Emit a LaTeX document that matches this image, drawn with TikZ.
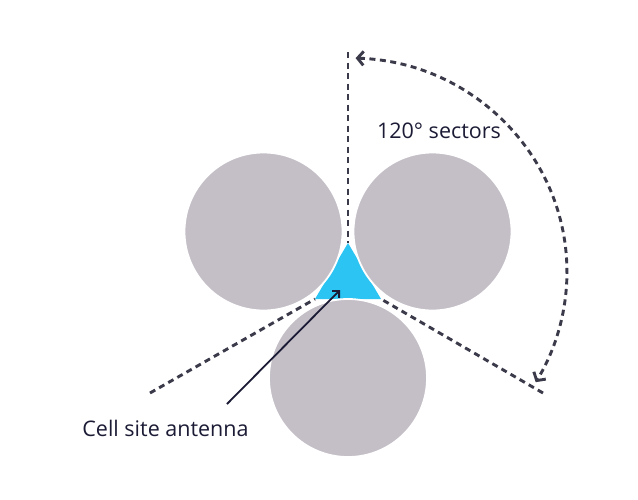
\documentclass[tikz,border=0pt]{standalone}
\usepackage{fontspec}
\setmainfont{Open Sans}
\usetikzlibrary{arrows.meta}
\definecolor{cellgray}{RGB}{196,190,198}
\definecolor{antcyan}{RGB}{43,196,243}
\definecolor{dashgray}{RGB}{58,58,74}
\definecolor{navy}{RGB}{27,27,53}
\tikzset{
  cell/.style={circle,fill=cellgray,draw=white,line width=1.8pt,minimum size=158pt,inner sep=0pt},
  sectorline/.style={draw=dashgray,line width=2.9pt,dash pattern=on 6pt off 4.5pt},
  lbl/.style={font=\fontsize{21.5}{25}\selectfont,text=navy,inner sep=0pt,anchor=base},
  chev/.tip={Straight Barb[length=6pt,width=14pt]}
}
\begin{document}
\begin{tikzpicture}[x=1pt,y=1pt]
\useasboundingbox (0,0) rectangle (638,-499);
% antenna vertices and sector line ends
\coordinate (apex) at (348,-243);
\coordinate (bl) at (315,-299);
\coordinate (br) at (381,-299);
\coordinate (topend) at (348,-52);
\coordinate (leftend) at (150,-393);
\coordinate (rightend) at (543,-393);
% sector lines
\draw[sectorline] (topend) -- (apex);
\draw[sectorline] (leftend) -- (bl);
\draw[sectorline] (rightend) -- (br);
% antenna
\fill[antcyan] (apex) -- (br) -- (bl) -- cycle;
% cells
\node[cell] (cl) at (263.5,-231.5) {};
\node[cell] (cr) at (432.5,-231.5) {};
\node[cell] (cb) at (348,-378) {};
% arc
\coordinate (arcS) at (355.6,-58.1);
\draw[sectorline,chev-chev,line cap=butt] (arcS) arc[start angle=88,end angle=-31,x radius=219pt,y radius=214pt];
% labels
\node[lbl] (sec) at (439,-138) {120° sectors};
\node[lbl] (ant) at (165.5,-436) {Cell site antenna};
\coordinate (antS) at (227,-404);
\coordinate (antT) at (340,-290);
\draw[navy,line width=1.8pt,-{Straight Barb[length=5pt,width=10pt]}] (antS) -- (antT);
\end{tikzpicture}
\end{document}
